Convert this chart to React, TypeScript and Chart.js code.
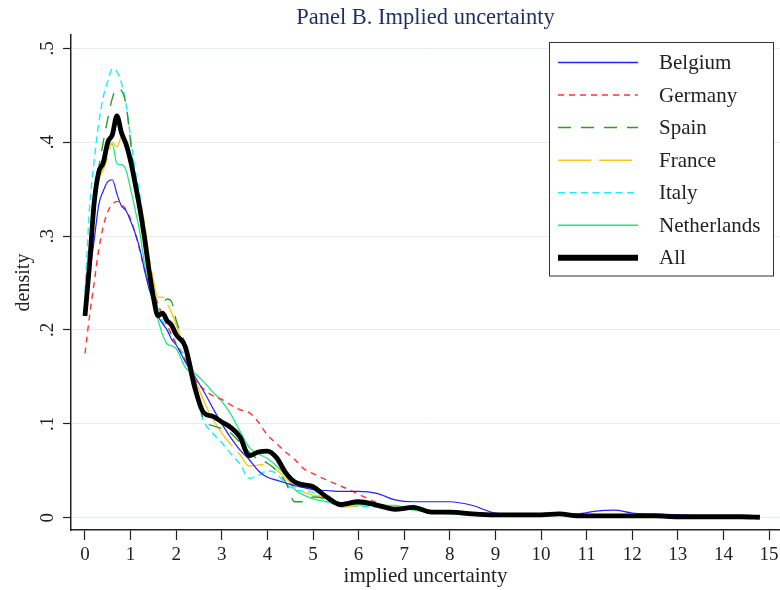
import React, { useEffect, useRef } from 'react';
import { Chart, registerables } from 'chart.js';

Chart.register(...registerables);

const titleText = 'Panel B. Implied uncertainty';
const xTitle = 'implied uncertainty';
const yTitle = 'density';

const xTicks = [0, 1, 2, 3, 4, 5, 6, 7, 8, 9, 10, 11, 12, 13, 14, 15];
const yTicks = [0, 0.1, 0.2, 0.3, 0.4, 0.5];
const yTickLabels = ['0', '.1', '.2', '.3', '.4', '.5'];

const seriesNames = ['Belgium', 'Germany', 'Spain', 'France', 'Italy', 'Netherlands', 'All'];

const xs = [0, 0.1, 0.2, 0.3, 0.4, 0.5, 0.6, 0.7, 0.8, 0.9, 1.0, 1.1, 1.2, 1.3, 1.4, 1.5, 1.6, 1.7, 1.8, 1.9, 2.0,
  2.2, 2.4, 2.6, 2.8, 3.0, 3.2, 3.4, 3.6, 3.8, 4.0, 4.2, 4.4, 4.6, 4.8, 5.0, 5.3, 5.6, 6.0, 6.4, 6.8, 7.2, 7.6,
  8.0, 8.5, 9.0, 9.5, 10.0, 10.4, 10.8, 11.2, 11.6, 12.0, 12.5, 13.0, 13.5, 14.0, 14.4, 14.8];

const belgium = [0.215, 0.26, 0.295, 0.333, 0.348, 0.358, 0.36, 0.345, 0.332, 0.327, 0.316, 0.303, 0.287, 0.265, 0.245, 0.232, 0.215, 0.207, 0.2, 0.19, 0.184,
  0.166, 0.151, 0.135, 0.117, 0.1, 0.085, 0.072, 0.062, 0.05, 0.043, 0.04, 0.037, 0.034, 0.032, 0.03, 0.029, 0.028, 0.028, 0.026, 0.019, 0.017, 0.017,
  0.017, 0.013, 0.005, 0.004, 0.004, 0.005, 0.004, 0.007, 0.008, 0.005, 0.004, 0.003, 0.002, 0.001, 0.001, 0.0005];

const germany = [0.175, 0.215, 0.25, 0.285, 0.31, 0.326, 0.334, 0.337, 0.334, 0.328, 0.318, 0.303, 0.285, 0.265, 0.25, 0.24, 0.228, 0.215, 0.205, 0.195, 0.185,
  0.168, 0.148, 0.137, 0.13, 0.126, 0.12, 0.115, 0.112, 0.102, 0.088, 0.079, 0.07, 0.062, 0.052, 0.047, 0.04, 0.034, 0.025, 0.016, 0.01, 0.01, 0.007,
  0.005, 0.005, 0.004, 0.003, 0.003, 0.004, 0.003, 0.003, 0.003, 0.003, 0.002, 0.002, 0.001, 0.001, 0.001, 0.0005];

const spain = [0.22, 0.28, 0.34, 0.372, 0.4, 0.425, 0.447, 0.457, 0.455, 0.44, 0.4, 0.36, 0.33, 0.3, 0.268, 0.24, 0.225, 0.228, 0.233, 0.23, 0.21,
  0.185, 0.15, 0.105, 0.098, 0.095, 0.09, 0.08, 0.07, 0.062, 0.058, 0.05, 0.038, 0.017, 0.017, 0.022, 0.02, 0.016, 0.015, 0.013, 0.01, 0.01, 0.006,
  0.005, 0.004, 0.003, 0.003, 0.003, 0.004, 0.002, 0.002, 0.002, 0.002, 0.002, 0.001, 0.001, 0.001, 0.001, 0.0005];

const france = [0.22, 0.275, 0.33, 0.36, 0.37, 0.385, 0.4, 0.395, 0.405, 0.397, 0.38, 0.365, 0.34, 0.315, 0.28, 0.253, 0.235, 0.235, 0.228, 0.218, 0.205,
  0.18, 0.15, 0.125, 0.105, 0.09, 0.078, 0.067, 0.055, 0.056, 0.057, 0.051, 0.042, 0.033, 0.027, 0.024, 0.021, 0.011, 0.013, 0.0135, 0.011, 0.011, 0.007,
  0.005, 0.004, 0.003, 0.003, 0.003, 0.004, 0.002, 0.002, 0.002, 0.002, 0.002, 0.001, 0.001, 0.001, 0.001, 0.0005];

const italy = [0.24, 0.33, 0.38, 0.42, 0.448, 0.465, 0.478, 0.475, 0.463, 0.44, 0.405, 0.37, 0.345, 0.31, 0.275, 0.245, 0.226, 0.21, 0.2, 0.193, 0.185,
  0.17, 0.135, 0.103, 0.09, 0.08, 0.068, 0.057, 0.042, 0.045, 0.05, 0.047, 0.036, 0.03, 0.028, 0.027, 0.018, 0.013, 0.012, 0.011, 0.009, 0.009, 0.006,
  0.005, 0.004, 0.003, 0.003, 0.003, 0.004, 0.002, 0.002, 0.002, 0.002, 0.002, 0.001, 0.001, 0.001, 0.001, 0.0005];

const netherlands = [0.22, 0.28, 0.33, 0.36, 0.385, 0.398, 0.398, 0.377, 0.376, 0.37, 0.35, 0.328, 0.305, 0.272, 0.245, 0.228, 0.211, 0.195, 0.185, 0.183, 0.18,
  0.16, 0.154, 0.145, 0.134, 0.124, 0.11, 0.092, 0.075, 0.068, 0.063, 0.055, 0.045, 0.03, 0.024, 0.02, 0.017, 0.015, 0.014, 0.0135, 0.013, 0.008, 0.006,
  0.004, 0.003, 0.003, 0.003, 0.003, 0.004, 0.002, 0.002, 0.002, 0.002, 0.002, 0.001, 0.001, 0.001, 0.001, 0.0005];

const allCountries = [0.215, 0.27, 0.335, 0.368, 0.378, 0.4, 0.408, 0.428, 0.41, 0.398, 0.38, 0.356, 0.33, 0.3, 0.265, 0.235, 0.215, 0.218, 0.21, 0.205, 0.195,
  0.182, 0.14, 0.112, 0.108, 0.102, 0.096, 0.086, 0.066, 0.07, 0.071, 0.064, 0.048, 0.038, 0.035, 0.033, 0.022, 0.014, 0.017, 0.0135, 0.009, 0.011, 0.006,
  0.006, 0.004, 0.003, 0.003, 0.003, 0.004, 0.002, 0.002, 0.002, 0.002, 0.002, 0.001, 0.001, 0.001, 0.001, 0.0005];

const seriesValues = [belgium, germany, spain, france, italy, netherlands, allCountries];
const seriesColors = ['#2222ff', '#ff3333', '#2f9a2f', '#ffc61a', '#19f0ff', '#22e87c', '#000000'];
const seriesDashes = [[], [6, 5], [13, 10], [33, 8], [7, 4.5], [], []];
const seriesWidths = [1.2, 1.4, 1.4, 1.4, 1.4, 1.3, 4.8];
const legendWidths = [1.3, 1.5, 1.5, 1.5, 1.5, 1.5, 6];

const FONT = '"Liberation Serif", "Times New Roman", serif';

const legendPlugin = {
  id: 'boxLegend',
  afterDraw(chart: any) {
    const ctx = chart.ctx;
    ctx.save();
    const bx = 549.5, by = 42.5, bw = 224, bh = 233.5;
    ctx.fillStyle = '#ffffff';
    ctx.fillRect(bx, by, bw, bh);
    ctx.strokeStyle = '#333333';
    ctx.lineWidth = 1;
    ctx.setLineDash([]);
    ctx.strokeRect(bx, by, bw, bh);
    chart.data.datasets.forEach((ds: any, i: number) => {
      const y = 62.5 + i * 32.55;
      ctx.beginPath();
      ctx.setLineDash(ds.borderDash || []);
      ctx.lineWidth = legendWidths[i];
      ctx.strokeStyle = ds.borderColor;
      ctx.moveTo(558, y);
      ctx.lineTo(638, y);
      ctx.stroke();
      ctx.setLineDash([]);
      ctx.fillStyle = '#222222';
      ctx.font = '21px ' + FONT;
      ctx.textBaseline = 'middle';
      ctx.textAlign = 'left';
      ctx.fillText(ds.label, 659, y + 1);
    });
    ctx.restore();
  },
};

export default function App() {
  const ref = useRef<HTMLCanvasElement | null>(null);

  useEffect(() => {
    document.body.style.margin = '0';
    const canvas = ref.current;
    if (!canvas) return;
    const datasets = seriesNames.map((name, i) => ({
      label: name,
      data: xs.map((x, j) => ({ x, y: seriesValues[i][j] })),
      borderColor: seriesColors[i],
      backgroundColor: seriesColors[i],
      borderDash: seriesDashes[i],
      borderWidth: seriesWidths[i],
      pointRadius: 0,
      fill: false,
      cubicInterpolationMode: 'monotone' as const,
      order: i === seriesNames.length - 1 ? 0 : 1,
    }));

    const chart = new Chart(canvas, {
      type: 'line',
      data: { datasets },
      plugins: [legendPlugin],
      options: {
        animation: false,
        responsive: false,
        devicePixelRatio: 1,
        layout: { padding: 0 },
        plugins: {
          legend: { display: false },
          tooltip: { enabled: false },
          title: {
            display: true,
            text: titleText,
            fullSize: false,
            color: '#1f2f5f',
            font: { family: FONT, size: 22.5, weight: 'normal' },
            padding: { top: 5, bottom: 3 },
          },
        },
        scales: {
          x: {
            type: 'linear',
            min: -0.307,
            max: 15.241,
            afterBuildTicks: (scale: any) => {
              scale.ticks = xTicks.map((v) => ({ value: v }));
            },
            afterFit: (scale: any) => {
              scale.height = 60;
              scale.paddingLeft = 0;
              scale.paddingRight = 0;
            },
            ticks: {
              color: '#222222',
              font: { family: FONT, size: 19 },
              padding: 4,
              maxRotation: 0,
              autoSkip: false,
              callback: (v: any) => String(v),
            },
            grid: {
              drawOnChartArea: false,
              tickColor: '#222222',
              tickLength: 10,
              tickWidth: 1.2,
            },
            border: { display: true, color: '#222222', width: 1.5 },
            title: {
              display: true,
              text: xTitle,
              color: '#222222',
              font: { family: FONT, size: 21 },
              padding: { top: 0, bottom: 1 },
            },
          },
          y: {
            type: 'linear',
            min: -0.0131,
            max: 0.5142,
            afterBuildTicks: (scale: any) => {
              scale.ticks = yTicks.map((v) => ({ value: v }));
            },
            afterFit: (scale: any) => {
              scale.width = 71;
              scale.paddingTop = 0;
              scale.paddingBottom = 0;
            },
            ticks: {
              color: '#222222',
              font: { family: FONT, size: 19 },
              padding: 8,
              minRotation: 90,
              maxRotation: 90,
              crossAlign: 'center',
              autoSkip: false,
              callback: (v: any, idx: number) => yTickLabels[idx],
            },
            grid: {
              color: '#e4edf0',
              lineWidth: 1,
              tickColor: '#222222',
              tickLength: 8,
              tickWidth: 1.2,
            },
            border: { display: true, color: '#222222', width: 1.5 },
            title: {
              display: true,
              text: yTitle,
              color: '#222222',
              font: { family: FONT, size: 20 },
              padding: { top: 12, bottom: 0 },
            },
          },
        },
      },
    } as any);

    return () => chart.destroy();
  }, []);

  return <canvas ref={ref} width={780} height={590} style={{ display: 'block' }} />;
}
